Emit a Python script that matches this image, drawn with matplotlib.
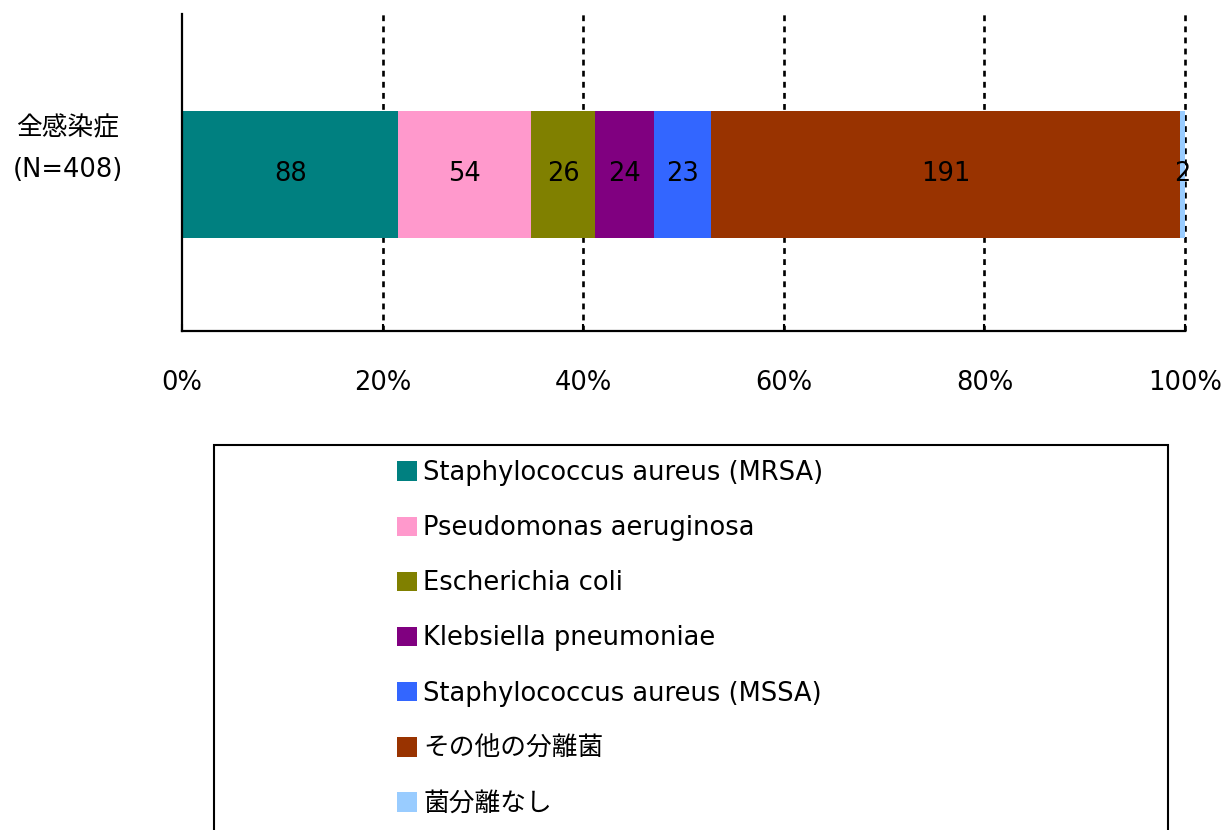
import matplotlib
matplotlib.use("Agg")
import matplotlib.pyplot as plt
import matplotlib.transforms as mtransforms
from matplotlib.patches import Patch, Rectangle
from matplotlib.ticker import PercentFormatter

plt.rcParams['font.family'] = ['DejaVu Sans', 'Noto Sans CJK JP']

category = "全感染症\n(N=408)"
series_names = [
    "Staphylococcus aureus (MRSA)",
    "Pseudomonas aeruginosa",
    "Escherichia coli",
    "Klebsiella pneumoniae",
    "Staphylococcus aureus (MSSA)",
    "その他の分離菌",
    "菌分離なし",
]
counts = [88, 54, 26, 24, 23, 191, 2]
colors = ["#008080", "#FF99CC", "#808000", "#800080", "#3366FF", "#993300", "#99CCFF"]
xticks = [0, 20, 40, 60, 80, 100]

FS = 18.5

fig = plt.figure(figsize=(12.25, 8.3), dpi=100)
ax = fig.add_axes([182/1225, 1 - 331/830, 1003/1225, 317/830])

total = sum(counts)
left = 0.0
for name, c, col in zip(series_names, counts, colors):
    w = c / total * 100
    bars = ax.barh([0], [w], left=left, height=0.4, color=col, label=name, zorder=2)
    ax.bar_label(bars, labels=[str(c)], label_type='center', fontsize=FS, color='black')
    left += w

ax.set_xlim(0, 100)
ax.set_ylim(-0.494, 0.506)
ax.set_xticks(xticks)
ax.xaxis.set_major_formatter(PercentFormatter(decimals=0))
ax.set_yticks([])
for x in xticks[1:]:
    ax.axvline(x, color='black', linestyle=(0, (2.2, 2.0)), linewidth=1.9,
               zorder=1, clip_on=False)

ax.spines['top'].set_visible(False)
ax.spines['right'].set_visible(False)
ax.spines['left'].set_linewidth(1.6)
ax.spines['bottom'].set_linewidth(1.6)
ax.tick_params(axis='x', direction='in', length=5, width=1.5, pad=28, labelsize=FS)

trans = mtransforms.blended_transform_factory(fig.transFigure, ax.transData)
ax.text(68/1225, 0.08, category, transform=trans, ha='center', va='center',
        fontsize=18.5, linespacing=1.82)

# legend frame
fig.patches.append(Rectangle((214/1225, -0.1), 954/1225, 1 - 445/830 + 0.1,
                             transform=fig.transFigure, fill=False,
                             edgecolor='black', linewidth=1.5))
handles = [Patch(facecolor=col, edgecolor='none') for col in colors]
fig.legend(handles, series_names, loc='upper left',
           bbox_to_anchor=(397/1225, 1 - 460/830), frameon=False,
           fontsize=FS, handlelength=0.78, handleheight=0.78,
           handletextpad=0.24, labelspacing=1.135, borderpad=0, borderaxespad=0)

fig.savefig("out.png", dpi=100)
